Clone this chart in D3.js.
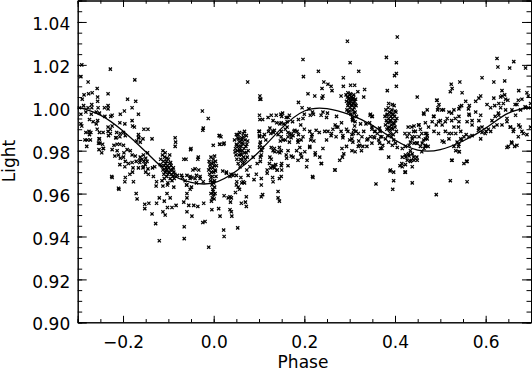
<!DOCTYPE html>
<html lang="en">
<head>
  <meta charset="UTF-8">
  <title>Light curve</title>
  <style>
    body { margin: 0; background: #fff; }
    svg text { font-family: "DejaVu Sans", sans-serif; font-size: 17px; fill: #000; }
    .axis path, .axis line { stroke: #000; stroke-width: 1; }
  </style>
</head>
<body>
  <svg></svg>
<script src="https://cdn.jsdelivr.net/npm/d3@7"></script>
<script>
  // fitted curve, every 0.05 in phase
  var curvePhase = [-0.30, -0.25, -0.20, -0.15, -0.10, -0.05, 0.00, 0.05, 0.10, 0.15, 0.20, 0.25, 0.30, 0.35, 0.40, 0.45, 0.50, 0.55, 0.60, 0.65, 0.70]
  var curveLight = [1.0003, 0.9966, 0.9892, 0.9795, 0.9698, 0.9652, 0.9650, 0.9705, 0.9795, 0.9905, 0.9985, 0.9996, 0.9968, 0.9918, 0.9850, 0.9803, 0.9805, 0.9845, 0.9905, 0.9975, 1.0002]

  var xTicks = [-0.2, 0.0, 0.2, 0.4, 0.6]
  var yTicks = [0.90, 0.92, 0.94, 0.96, 0.98, 1.00, 1.02, 1.04]

  // observations [phase, light]
  var obsLeft = [[-0.291,1.020],[-0.228,1.018],[-0.293,1.0145],[-0.174,1.013],[-0.277,1.012],[-0.257,1.009],[-0.286,1.006],[-0.276,1.0065],[-0.268,1.007],[-0.233,1.0065],[-0.256,1.005],[-0.256,1.003],[-0.290,1.004],[-0.190,1.004],[-0.172,1.003],[-0.269,1.0015],[-0.269,1.000],[-0.233,1.001],[-0.241,1.000],[-0.233,0.9995],[-0.296,1.000],[-0.287,1.001],[-0.277,1.000],[-0.180,1.000],[-0.255,1.000],[-0.197,0.9985],[-0.206,0.997],[-0.166,0.997],[-0.293,0.997],[-0.282,0.998],[-0.270,0.997],[-0.259,0.998],[-0.252,0.9975],[-0.240,0.996],[-0.227,0.996],[-0.224,0.9965],[-0.274,0.9945],[-0.266,0.9935],[-0.256,0.994],[-0.259,0.9925],[-0.293,0.9925],[-0.291,0.9915],[-0.207,0.993],[-0.196,0.9925],[-0.180,0.994],[-0.179,0.9915],[-0.175,0.991],[-0.154,0.990],[-0.145,0.990],[-0.233,0.991],[-0.224,0.9915],[-0.228,0.990],[-0.233,0.989],[-0.228,0.988],[-0.275,0.989],[-0.271,0.9885],[-0.282,0.9885],[-0.274,0.9875],[-0.284,0.985],[-0.257,0.990],[-0.252,0.9885],[-0.244,0.9885],[-0.253,0.9855],[-0.214,0.9885],[-0.206,0.988],[-0.199,0.9885],[-0.195,0.987],[-0.216,0.986],[-0.166,0.9875],[-0.165,0.986],[-0.136,0.9855],
    [-0.279,0.985],[-0.272,0.985],[-0.252,0.9855],[-0.254,0.9835],[-0.245,0.983],[-0.253,0.9805],[-0.243,0.981],[-0.232,0.987],[-0.215,0.986],[-0.207,0.9865],[-0.220,0.9825],[-0.213,0.983],[-0.207,0.983],[-0.199,0.9825],[-0.191,0.9805],[-0.184,0.980],[-0.224,0.9805],[-0.213,0.980],[-0.210,0.978],[-0.218,0.9775],[-0.206,0.9765],[-0.199,0.977],[-0.198,0.979],[-0.207,0.9735],[-0.166,0.986],[-0.170,0.9845],[-0.162,0.984],[-0.156,0.9855],[-0.195,0.975],[-0.188,0.974],[-0.180,0.9745],[-0.171,0.975],[-0.163,0.9745],[-0.154,0.975],[-0.147,0.975],[-0.151,0.9735],[-0.166,0.972],[-0.156,0.972],[-0.178,0.972],[-0.179,0.970],[-0.195,0.9675],[-0.209,0.962],[-0.224,0.9675],[-0.146,0.979],[-0.180,0.978],[-0.173,0.9775],[-0.162,0.977],[-0.155,0.978],[-0.158,0.976],[-0.150,0.9765],[-0.145,0.9715],[-0.150,0.970],[-0.135,0.972],[-0.280,0.982],[-0.251,0.9835],[-0.244,0.981],[-0.247,0.979],[-0.225,0.968],[-0.210,0.9625],[-0.196,0.9725],[-0.185,0.969],[-0.177,0.9655],[-0.196,0.9655],[-0.163,0.9755],[-0.155,0.9725],[-0.144,0.969],[-0.130,0.9725],[-0.133,0.968],[-0.126,0.9655]]

  var obsDip = [[-0.127,0.9635],[-0.112,0.9635],[-0.102,0.964],[-0.088,0.963],[-0.120,0.958],[-0.109,0.9565],[-0.103,0.960],[-0.096,0.958],[-0.102,0.9535],[-0.092,0.9535],[-0.083,0.9545],[-0.112,0.9515],[-0.107,0.950],[-0.136,0.9505],[-0.128,0.946],[-0.120,0.938],[-0.152,0.955],[-0.143,0.9555],[-0.152,0.953],[-0.171,0.960],[-0.169,0.9575],[-0.126,0.9555],[-0.085,0.986],[-0.084,0.984],[-0.085,0.982],[-0.051,0.9805],[-0.080,0.9685],[-0.069,0.9675],[-0.059,0.9685],[-0.048,0.9675],[-0.038,0.9685],[-0.030,0.967],[-0.059,0.964],[-0.052,0.962],[-0.059,0.960],[-0.059,0.958],[-0.066,0.956],[-0.055,0.9545],[-0.044,0.9545],[-0.035,0.954],[-0.022,0.9555],[-0.048,0.9495],[-0.059,0.9515],[-0.065,0.9445],[-0.065,0.939],[-0.019,0.947],[-0.024,0.9465],[-0.011,0.935],[-0.052,0.967],[-0.041,0.9715],[-0.035,0.976],[-0.046,0.971],[-0.033,0.971],[-0.066,0.976],[-0.025,0.9985],[-0.012,0.995],[-0.024,0.9895],
    [-0.071,0.9685],[-0.063,0.966],[-0.052,0.968],[-0.041,0.967],[-0.030,0.968],[-0.023,0.9655],[-0.060,0.964],[-0.049,0.963],[-0.038,0.965],[-0.061,0.976],[-0.050,0.981],[-0.034,0.977],[-0.023,0.9905],[-0.001,0.9825],[0.012,0.987],[0.014,0.983],[0.023,0.9835],[0.028,0.9695],[0.036,0.968],[0.043,0.9685],[0.051,0.9655],[0.062,0.965],[0.054,0.963],[0.016,0.9865],[0.013,0.983],[0.022,0.983],[0.013,0.987],[0.020,0.9705],[0.028,0.970],[0.038,0.969],[0.023,0.959],[0.036,0.9585],[0.036,0.9525],[0.022,0.943],[0.023,0.940],[0.014,0.9495],[-0.004,0.9525],[0.011,0.953],
    [0.032,0.958],[0.039,0.958],[0.037,0.956],[0.061,0.9555],[0.072,0.9585],[0.070,0.956],[0.072,0.954],[0.039,0.9515],[0.040,0.9495],[0.053,0.944],[0.105,0.9585],[0.108,0.9595],[0.142,0.961],[0.142,0.958],[0.145,0.9565],[0.050,0.964],[0.057,0.962],[0.048,0.9605],[0.065,0.9655],[0.060,0.9675],[0.050,0.9685],[0.076,0.9685],[0.068,0.965],[0.094,0.969],[0.089,0.9665],[0.105,0.964],[0.105,0.967],[0.131,0.9655],[0.145,0.967],[0.149,0.968],[0.164,0.973]]

  var obsRise = [[0.073,0.971],[0.080,0.9725],[0.087,0.977],[0.096,0.974],[0.103,0.977],[0.102,0.983],[0.100,0.989],[0.102,0.9945],[0.102,1.0055],[0.102,1.004],[0.101,0.9865],[0.103,0.984],[0.101,0.9815],[0.106,0.980],[0.108,0.9815],[0.105,0.978],[0.103,0.975],[0.127,0.9815],[0.131,0.980],[0.134,0.981],[0.142,0.9795],[0.149,0.980],[0.145,0.9815],[0.127,0.976],[0.123,0.974],[0.131,0.973],[0.126,0.972],[0.118,0.971],[0.134,0.972],[0.137,0.9735],[0.149,0.973],[0.150,0.971],[0.140,0.971],[0.147,0.9845],[0.149,0.9865],[0.158,0.985],[0.164,0.9865],[0.171,0.986],[0.167,0.984],[0.175,0.987],[0.186,0.984],[0.193,0.985],[0.190,0.9815],[0.183,0.980],[0.192,0.9785],[0.164,0.980],[0.160,0.978],[0.171,0.9775],[0.197,0.9865],[0.214,0.985],[0.221,0.9845],[0.212,0.9815],[0.216,0.9865],[0.206,0.9755],[0.205,0.9725],[0.219,0.9675],[0.237,0.974],[0.224,0.978],[0.234,0.977],[0.241,0.981],[0.224,0.979],[0.259,0.987],[0.270,0.9865],[0.285,0.986],[0.283,0.981],[0.284,0.977],[0.268,0.971],[0.305,0.9855],[0.307,0.984],[0.305,0.980],[0.320,0.9845],[0.322,0.9825],[0.329,0.982],[0.326,0.980],[0.340,0.9855],[0.346,0.9865],[0.355,0.986],[0.366,0.9835],[0.371,0.981],[0.358,0.9645],
    [0.109,0.9865],[0.115,0.985],[0.124,0.9905],[0.131,0.9885],[0.139,0.993],[0.146,0.9925],[0.150,0.996],[0.164,0.9955],[0.168,0.988],[0.179,0.9895],[0.186,0.985],[0.162,0.991],[0.153,0.985],[0.146,0.979],[0.135,0.9795],[0.124,0.977],[0.131,0.9725],[0.118,0.9695],[0.130,0.9675],[0.140,0.971],[0.150,0.974],[0.161,0.9765],[0.175,0.977],[0.186,0.9755],[0.194,0.977],[0.201,0.9795],[0.212,0.982],[0.218,0.968],[0.238,0.974],[0.249,0.985],[0.260,0.988],[0.271,0.991],[0.267,0.971],[0.278,0.9755],[0.287,0.9785],[0.293,0.982],[0.300,0.985],[0.308,0.988],[0.293,0.990],[0.282,0.993],[0.271,0.996]]

  var obsPeak = [[0.295,1.031],[0.197,1.0225],[0.301,1.021],[0.231,1.017],[0.198,1.0145],[0.320,1.017],[0.075,1.012],[0.286,1.014],[0.286,1.010],[0.302,1.0105],[0.311,1.0105],[0.243,1.012],[0.252,1.011],[0.259,1.010],[0.239,1.009],[0.261,1.008],[0.104,1.004],[0.208,1.0065],[0.223,1.0055],[0.241,1.0055],[0.239,1.0045],[0.281,1.0055],[0.292,1.006],[0.318,1.0075],[0.333,1.0085],[0.331,1.005],[0.187,1.0025],[0.195,1.000],[0.210,0.9995],[0.218,0.998],[0.213,0.9965],[0.200,0.997],[0.197,0.995],[0.220,0.997],[0.241,0.998],[0.237,0.9965],[0.251,0.9975],[0.249,0.9955],[0.101,0.9965],[0.108,0.9945],[0.120,0.9955],[0.127,0.9965],[0.138,0.9965],[0.148,0.997],[0.152,0.9975],[0.131,0.994],[0.160,0.9955],[0.167,0.9965],[0.162,0.9935],[0.155,0.9925],[0.174,0.9935],[0.187,0.9945],[0.192,0.992],[0.050,0.9875],[0.057,0.9885],[0.065,0.988],[0.068,0.989],[0.072,0.987],[0.062,0.986],[0.055,0.9855],[0.149,0.993],[0.307,0.995],[0.306,0.9945],
    [0.101,0.989],[0.101,0.987],[0.112,0.9875],[0.121,0.989],[0.126,0.988],[0.131,0.989],[0.134,0.9895],[0.142,0.9875],[0.149,0.989],[0.158,0.990],[0.164,0.9885],[0.171,0.9875],[0.177,0.989],[0.184,0.989],[0.187,0.9875],[0.200,0.990],[0.212,0.989],[0.217,0.9875],[0.226,0.9895],[0.233,0.9885],[0.245,0.989],[0.252,0.989],[0.263,0.990],[0.268,0.992],[0.274,0.991],[0.281,0.989],[0.285,0.987],[0.296,0.989],[0.305,0.9875],[0.311,0.9915],[0.314,0.989],[0.324,0.9925],[0.331,0.989],[0.336,0.9925],[0.344,0.993],[0.349,0.990],[0.355,0.989],[0.361,0.988],[0.366,0.9905],[0.350,0.996],[0.346,0.997]]

  var obsRight = [[0.405,1.033],[0.381,1.0235],[0.403,1.021],[0.403,1.016],[0.399,1.015],[0.403,1.010],[0.383,1.008],[0.449,1.005],[0.625,1.023],[0.627,1.019],[0.662,1.0215],[0.653,1.0185],[0.688,1.0185],[0.642,1.0125],[0.618,1.012],[0.592,1.014],[0.524,1.011],[0.526,1.009],[0.522,1.0075],[0.543,1.012],[0.548,1.007],[0.636,1.008],[0.636,1.0055],[0.642,1.006],[0.644,1.004],[0.633,1.005],[0.618,1.0045],[0.673,1.008],[0.691,1.007],[0.699,1.002],[0.492,1.0035],[0.497,1.0015],[0.507,0.999],[0.494,0.999],
    [0.589,1.0055],[0.585,1.0045],[0.578,1.003],[0.564,1.001],[0.556,1.003],[0.547,1.001],[0.541,0.9995],[0.530,0.999],[0.519,0.998],[0.515,0.995],[0.525,0.994],[0.541,0.996],[0.563,0.997],[0.578,0.998],[0.589,0.9965],[0.585,0.994],[0.603,1.0015],[0.611,1.000],[0.620,1.001],[0.629,1.002],[0.633,1.000],[0.644,0.999],[0.629,0.9965],[0.647,0.995],[0.666,0.9965],[0.677,0.999],[0.688,1.000],[0.680,1.004],[0.694,1.000],[0.669,1.0015],[0.464,0.997],[0.471,0.999],[0.486,0.996],[0.493,1.0035],[0.495,1.000],[0.500,0.994],[0.511,0.9935],[0.504,0.992],[0.491,0.992],[0.482,0.9935],[0.530,0.991],[0.534,0.988],[0.519,0.988],[0.545,0.989],[0.557,0.9875],[0.541,0.9935],[0.559,0.9935],[0.570,0.992],[0.585,0.9905],[0.592,0.9885],[0.601,0.989],[0.611,0.989],[0.618,0.991],[0.625,0.992],[0.636,0.992],[0.647,0.9935],[0.655,0.991],[0.662,0.990],[0.673,0.992],[0.680,0.989],[0.691,0.9875],[0.699,0.991],[0.442,0.9915],[0.445,0.989],[0.453,0.992],[0.429,0.991],[0.431,0.988],[0.438,0.9865],[0.422,0.988],[0.467,0.988],[0.471,0.9855],[0.486,0.989],
    [0.368,0.9865],[0.373,0.9825],[0.368,0.981],[0.386,0.984],[0.397,0.985],[0.401,0.9835],[0.405,0.9815],[0.394,0.9825],[0.379,0.9855],[0.416,0.981],[0.423,0.982],[0.431,0.9825],[0.434,0.984],[0.438,0.9855],[0.442,0.9835],[0.449,0.9835],[0.460,0.9835],[0.467,0.9825],[0.464,0.981],[0.473,0.982],[0.467,0.9855],[0.471,0.987],[0.453,0.9865],[0.427,0.9865],[0.434,0.980],[0.438,0.9785],[0.416,0.977],[0.423,0.978],[0.431,0.9775],[0.427,0.9755],[0.434,0.975],[0.442,0.9755],[0.449,0.9755],[0.416,0.9725],[0.423,0.9735],[0.438,0.9725],[0.423,0.970],[0.386,0.977],[0.390,0.971],[0.397,0.970],[0.397,0.966],[0.395,0.962],[0.438,0.965],[0.459,0.9795],[0.491,0.9595],[0.522,0.966],[0.559,0.9655],[0.526,0.9755],[0.552,0.974],[0.559,0.975],[0.534,0.980],[0.530,0.982],[0.541,0.9795],[0.537,0.984],[0.545,0.9855],[0.552,0.9865],[0.541,0.983],[0.563,0.9865],[0.570,0.987],[0.504,0.9845],[0.508,0.984],[0.519,0.9855],[0.589,0.9855],[0.647,0.9815],[0.657,0.984],[0.664,0.982],[0.672,0.9865],
    [0.389,0.9705],[0.411,0.973],[0.415,0.974],[0.422,0.970],[0.424,0.977],[0.436,0.9755],[0.441,0.977],[0.430,0.9785],[0.448,0.977],[0.437,0.991],[0.441,0.989],[0.444,0.9865],[0.452,0.992],[0.456,0.990],[0.459,0.988],[0.463,0.985],[0.467,0.982],[0.470,0.988],[0.474,0.991],[0.448,0.9835],[0.456,0.982],[0.467,0.993],[0.463,0.9975],[0.485,0.996],[0.496,0.9935],[0.503,0.999],[0.511,0.989],[0.496,0.988],[0.525,0.988],[0.540,0.991],[0.547,0.985],[0.540,0.982],[0.542,0.9795],[0.525,0.9755],[0.558,0.975],[0.533,0.995],[0.525,0.9975],[0.543,1.0005],[0.562,0.9995],[0.564,0.9965],[0.570,0.994],[0.584,0.9895],[0.592,0.991],[0.599,0.988],[0.606,0.990],[0.614,0.994],[0.621,0.996],[0.628,0.9975],[0.639,1.002],[0.649,1.0035],[0.658,0.999],[0.665,1.0015],[0.672,1.0035],[0.687,1.0005],[0.694,1.0055],[0.654,0.991],[0.661,0.989],[0.650,0.982],[0.658,0.9835],[0.669,0.9825],[0.676,0.991],[0.683,0.988],[0.345,0.9965],[0.349,0.996],[0.312,0.9935],[0.309,0.9895],[0.319,0.988],[0.327,0.9865],[0.338,0.985],[0.353,0.9865],[0.356,0.989],[0.349,0.991],[0.319,0.982],[0.312,0.9795],[0.338,0.982],[0.349,0.9835],[0.364,0.985],[0.371,0.9865],[0.367,0.989]]

  // the dense groups of points
  var clumpA = [[-0.117,0.976],[-0.115,0.973],[-0.113,0.978],[-0.112,0.971],[-0.111,0.975],[-0.110,0.969],[-0.109,0.973],[-0.108,0.977],[-0.107,0.970],[-0.106,0.974],[-0.105,0.972],[-0.104,0.968],[-0.104,0.975],[-0.103,0.971],[-0.102,0.973],[-0.101,0.969],[-0.100,0.976],[-0.099,0.972],[-0.098,0.970],[-0.097,0.974],[-0.096,0.967],[-0.095,0.971],[-0.094,0.973],[-0.093,0.969],[-0.092,0.966],[-0.091,0.971],[-0.090,0.968],[-0.089,0.972],[-0.088,0.970],[-0.087,0.967],[-0.086,0.969],[-0.112,0.980],[-0.107,0.979],[-0.114,0.966],[-0.101,0.965],[-0.097,0.978],[-0.109,0.967],[-0.103,0.9765],[-0.095,0.9745],[-0.118,0.9735]]
  var clumpB = [[-0.010,0.975],[-0.008,0.972],[-0.006,0.977],[-0.005,0.970],[-0.004,0.974],[-0.003,0.968],[-0.002,0.972],[-0.001,0.976],[0.000,0.970],[0.001,0.973],[0.002,0.966],[0.003,0.971],[0.004,0.975],[0.005,0.968],[-0.009,0.969],[-0.007,0.966],[-0.004,0.964],[-0.002,0.962],[0.000,0.965],[0.002,0.963],[-0.006,0.960],[-0.003,0.958],[-0.001,0.961],[0.001,0.9575],[-0.005,0.9565],[0.003,0.960],[-0.008,0.9735],[-0.001,0.9745],[0.004,0.9705],[-0.006,0.9675],[0.006,0.973],[-0.011,0.971],[0.002,0.9775],[-0.003,0.9655],[0.000,0.9595]]
  var clumpC = [[0.046,0.985],[0.048,0.981],[0.049,0.978],[0.050,0.983],[0.051,0.976],[0.052,0.980],[0.053,0.986],[0.054,0.974],[0.055,0.982],[0.056,0.978],[0.057,0.984],[0.058,0.980],[0.059,0.976],[0.060,0.982],[0.061,0.978],[0.062,0.985],[0.063,0.980],[0.064,0.974],[0.065,0.983],[0.066,0.977],[0.067,0.981],[0.068,0.979],[0.069,0.985],[0.070,0.976],[0.071,0.982],[0.072,0.979],[0.073,0.983],[0.074,0.977],[0.076,0.980],[0.047,0.9795],[0.054,0.9875],[0.058,0.9725],[0.062,0.9755],[0.066,0.9865],[0.051,0.9825],[0.057,0.9805],[0.060,0.9785],[0.063,0.9835],[0.068,0.9745],[0.075,0.9845]]
  var clumpD = [[0.293,1.003],[0.294,0.999],[0.295,1.005],[0.296,1.001],[0.297,0.998],[0.298,1.004],[0.299,1.002],[0.300,1.006],[0.301,1.000],[0.302,1.003],[0.303,0.997],[0.304,1.005],[0.305,1.001],[0.306,1.004],[0.307,0.999],[0.308,1.002],[0.309,1.006],[0.310,1.000],[0.311,1.003],[0.312,0.998],[0.313,1.004],[0.314,1.001],[0.315,0.996],[0.296,1.007],[0.300,0.9985],[0.304,1.0015],[0.306,0.9955],[0.308,1.0045],[0.302,1.0065],[0.297,1.0025],[0.310,0.9975],[0.299,1.0045],[0.305,1.0035],[0.312,1.0015],[0.307,0.994]]
  var clumpE = [[0.378,0.996],[0.379,0.992],[0.380,0.999],[0.381,0.994],[0.382,0.990],[0.383,0.997],[0.384,0.993],[0.385,1.000],[0.386,0.995],[0.387,0.991],[0.388,0.998],[0.389,0.994],[0.390,0.988],[0.391,0.996],[0.392,0.992],[0.393,0.999],[0.394,0.995],[0.395,0.990],[0.396,0.997],[0.397,0.993],[0.398,1.001],[0.399,0.996],[0.400,0.991],[0.401,0.994],[0.402,0.998],[0.403,0.989],[0.404,0.995],[0.384,0.987],[0.388,0.9895],[0.392,0.9865],[0.396,0.9875],[0.386,1.002],[0.394,1.0015],[0.390,0.9935],[0.382,0.9965],[0.398,0.9925],[0.385,0.9905],[0.400,0.9985],[0.391,0.9975],[0.393,0.9905]]

  var obs = [].concat(obsLeft, obsDip, obsRise, obsPeak, obsRight, clumpA, clumpB, clumpC, clumpD, clumpE)

  var width = 532
  var height = 373
  var plotL = 77.7, plotR = 531, plotT = 0.5, plotB = 322.3

  var svg = d3.select('svg')
    .attr('width', width)
    .attr('height', height)

  var x = d3.scaleLinear().domain([-0.3, 0.7]).range([plotL, plotR])
  var y = d3.scaleLinear().domain([0.90, 1.05]).range([plotB, plotT])

  var xMinor = d3.range(-0.3, 0.7001, 0.05)
  var yMinor = d3.range(0.90, 1.0501, 0.005)

  var tickX = 6.5, tickY = 9

  // minor ticks first, then the major ones with labels
  svg.append('g').attr('class', 'axis').attr('transform', `translate(0,${plotB})`)
    .call(d3.axisBottom(x).tickValues(xMinor).tickSize(-tickX / 2).tickFormat(''))
  svg.append('g').attr('class', 'axis').attr('transform', `translate(0,${plotT})`)
    .call(d3.axisTop(x).tickValues(xMinor).tickSize(-tickX / 2).tickFormat(''))
  svg.append('g').attr('class', 'axis').attr('transform', `translate(${plotL},0)`)
    .call(d3.axisLeft(y).tickValues(yMinor).tickSize(-tickY / 2).tickFormat(''))
  svg.append('g').attr('class', 'axis').attr('transform', `translate(${plotR},0)`)
    .call(d3.axisRight(y).tickValues(yMinor).tickSize(-tickY / 2).tickFormat(''))

  svg.append('g').attr('class', 'axis').attr('transform', `translate(0,${plotB})`)
    .call(d3.axisBottom(x).tickValues(xTicks).tickSize(-tickX).tickPadding(13.6).tickFormat(d3.format('.1f')))
  svg.append('g').attr('class', 'axis').attr('transform', `translate(0,${plotT})`)
    .call(d3.axisTop(x).tickValues(xTicks).tickSize(-tickX).tickFormat(''))
  var yAxis = svg.append('g').attr('class', 'axis').attr('transform', `translate(${plotL},0)`)
    .call(d3.axisLeft(y).tickValues(yTicks).tickSize(-tickY).tickPadding(7.5).tickFormat(d3.format('.2f')))
  svg.append('g').attr('class', 'axis').attr('transform', `translate(${plotR},0)`)
    .call(d3.axisRight(y).tickValues(yTicks).tickSize(-tickY).tickFormat(''))

  svg.selectAll('.axis').attr('font-family', null).attr('font-size', null)
  yAxis.selectAll('text').attr('dy', '0.45em')

  svg.append('text')
    .attr('x', 303).attr('y', 368)
    .attr('text-anchor', 'middle')
    .text('Phase')
  svg.append('text')
    .attr('transform', 'translate(15,161) rotate(-90)')
    .attr('text-anchor', 'middle')
    .text('Light')

  // observations as small crosses
  var s = 1.6
  svg.append('g')
    .selectAll('path')
    .data(obs)
    .enter()
    .append('path')
    .attr('d', d => {
      var cx = x(d[0]), cy = y(d[1])
      return `M${cx-s},${cy-s}L${cx+s},${cy+s}M${cx-s},${cy+s}L${cx+s},${cy-s}`
    })
    .attr('stroke', '#000')
    .attr('stroke-width', 1.25)

  var line = d3.line()
    .x(d => x(d[0]))
    .y(d => y(d[1]))
    .curve(d3.curveNatural)

  svg.append('path')
    .datum(curvePhase.map((p, i) => [p, curveLight[i]]))
    .attr('d', line)
    .attr('fill', 'none')
    .attr('stroke', '#000')
    .attr('stroke-width', 1.3)
</script>
</body>
</html>
